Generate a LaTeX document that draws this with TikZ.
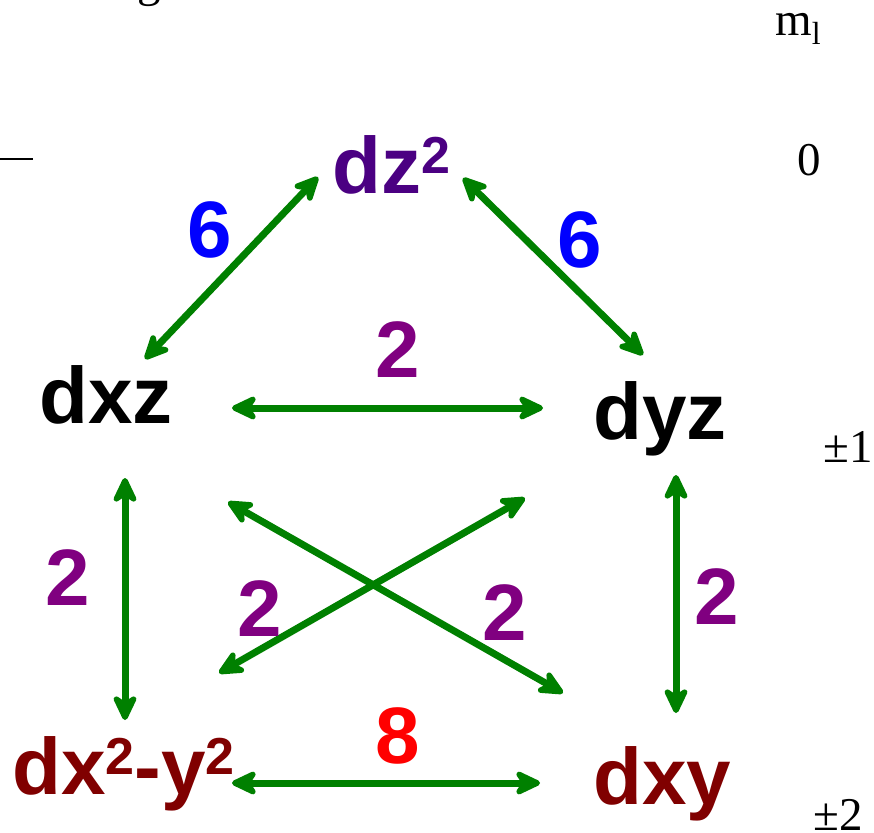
\documentclass[tikz,border=0pt]{standalone}
\usepackage{fontspec}
\setmainfont{Liberation Serif}
\newfontfamily\orbfont{Liberation Sans}
\usetikzlibrary{arrows.meta}
\definecolor{arrowgreen}{RGB}{0,128,0}
\definecolor{indigo}{RGB}{75,0,130}
\definecolor{lilac}{RGB}{128,0,128}
\definecolor{maroon}{RGB}{128,0,0}
\newcommand\supii{\raisebox{20pt}{\fontsize{52}{52}\selectfont 2}}
\begin{document}
\begin{tikzpicture}[
  x=1pt, y=-1pt,
  orb/.style={inner sep=0pt, anchor=base west,
    font={\orbfont\bfseries\fontsize{80}{96}\selectfont}},
  num/.style={inner sep=0pt, font={\orbfont\bfseries\fontsize{80}{96}\selectfont}},
  mlab/.style={inner sep=0pt, anchor=base west, font={\fontsize{47}{56}\selectfont}},
  link/.style={draw=arrowgreen, line width=7pt, line cap=round,
    {Stealth[length=32pt,width=30pt,inset=10pt,round]}-{Stealth[length=32pt,width=30pt,inset=10pt,round]}}
]
\useasboundingbox (0,0) rectangle (874,832);
% orbitals
\node[orb, text=indigo] (dz2)  at (332,193) {dz\supii};
\node[orb]              (dxz)  at (39,423)  {dxz};
\node[orb]              (dyz)  at (593,439) {dyz};
\node[orb, text=maroon] (dx2y2) at (12,794) {dx\supii-y\supii};
\node[orb, text=maroon] (dxy)  at (593,804) {dxy};
% m_l column
\node[mlab] (mltitle) at (775,36) {m\raisebox{-9pt}{\fontsize{32}{32}\selectfont l}};
\node[mlab] (ml0) at (797,175) {0};
\node[mlab] (ml1) at (823,462) {±1};
\node[mlab] (ml2) at (813,830) {±2};
\node[mlab] (gcut) at (137,-3) {g};
\draw[line width=2pt] (0,159) coordinate (lvl0) -- (33,159);
% transitions
\draw[link] ([shift={(106,-64)}]dxz.base west) -- ([shift={(-14,-16)}]dz2.base west);
\draw[link] ([shift={(131,-15)}]dz2.base west) -- ([shift={(50,-84)}]dyz.base west);
\draw[link] ([shift={(193,-15)}]dxz.base west) -- ([shift={(-50,-31)}]dyz.base west);
\draw[link] ([shift={(86,55)}]dxz.base west) -- ([shift={(113,-74)}]dx2y2.base west);
\draw[link] ([shift={(83,36)}]dyz.base west) -- ([shift={(83,-91)}]dxy.base west);
\draw[link] ([shift={(220,-11)}]dx2y2.base west) -- ([shift={(-53,-21)}]dxy.base west);
\draw[link] ([shift={(189,79)}]dxz.base west) -- ([shift={(-30,-111)}]dxy.base west);
\draw[link] ([shift={(-68,59)}]dyz.base west) -- ([shift={(207,-121)}]dx2y2.base west);
% weights
\node[num, text=blue]  (w1) at (210,230) {6};
\node[num, text=blue]  (w2) at (580,240) {6};
\node[num, text=lilac] (w3) at (398,350) {2};
\node[num, text=lilac] (w4) at (68,578)  {2};
\node[num, text=lilac] (w5) at (260,609) {2};
\node[num, text=lilac] (w6) at (505,613) {2};
\node[num, text=lilac] (w7) at (717,597) {2};
\node[num, text=red]   (w8) at (398,736) {8};
\end{tikzpicture}
\end{document}
